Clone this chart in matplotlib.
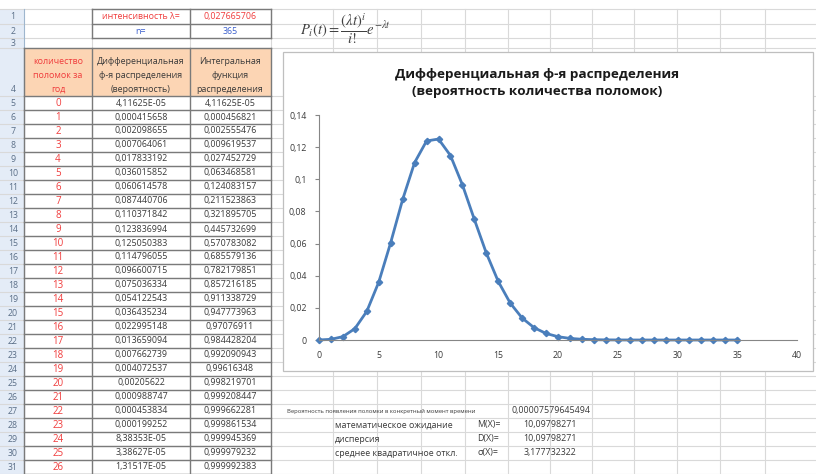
import numpy as np
import matplotlib.pyplot as plt
from matplotlib.ticker import FuncFormatter
from matplotlib.patches import Rectangle

plt.rcParams['font.family'] = ['Open Sans', 'DejaVu Sans']
plt.rcParams['mathtext.fontset'] = 'stix'

# ---- sheet data ----
lam_label, lam_value = 'интенсивность λ=', '0,027665706'
n_label, n_value = 'n=', '365'

header_a = ['количество', 'поломок за', 'год']
header_b = ['Дифференциальная', 'ф-я распределения', '(вероятность)']
header_c = ['Интегральная', 'функция', 'распределения']

breaks = list(range(27))
diff_vals = [4.11625e-05, 0.000415658, 0.002098655, 0.007064061, 0.017833192,
             0.036015852, 0.060614578, 0.087440706, 0.110371842, 0.123836994,
             0.125050383, 0.114796055, 0.096600715, 0.075036334, 0.054122543,
             0.036435234, 0.022995148, 0.013659094, 0.007662739, 0.004072537,
             0.00205622, 0.000988747, 0.000453834, 0.000199252, 8.38353e-05,
             3.38627e-05, 1.31517e-05]
cum_vals = [4.11625e-05, 0.000456821, 0.002555476, 0.009619537, 0.027452729,
            0.063468581, 0.124083157, 0.211523863, 0.321895705, 0.445732699,
            0.570783082, 0.685579136, 0.782179851, 0.857216185, 0.911338729,
            0.947773963, 0.97076911, 0.984428204, 0.992090943, 0.99616348,
            0.998219701, 0.999208447, 0.999662281, 0.999861534, 0.999945369,
            0.999979232, 0.999992383]
# rows 27..35 are below the visible part of the sheet
tail_breaks = [27, 28, 29, 30, 31, 32, 33, 34, 35]
tail_vals = [4.92e-06, 1.77e-06, 6.18e-07, 2.08e-07, 6.8e-08, 2.1e-08,
             6.5e-09, 1.9e-09, 5.6e-10]

chart_title = 'Дифференциальная ф-я распределения\n(вероятность количества поломок)'
x_ticks = [0, 5, 10, 15, 20, 25, 30, 35, 40]
y_ticks = [0, 0.02, 0.04, 0.06, 0.08, 0.1, 0.12, 0.14]

p_label = 'Вероятность появления поломки в конкретный момент времени'
p_value = '0,00007579645494'
stat_names = ['математическое ожидание', 'дисперсия', 'среднее квадратичное откл.']
stat_symbols = ['M(X)=', 'D(X)=', 'σ(X)=']
stat_values = ['10,09798271', '10,09798271', '3,177732322']


def excel_fmt(v):
    if v < 1e-4:
        return f'{v:.5E}'.replace('.', ',')
    return f'{v:.9f}'.rstrip('0').replace('.', ',')


red = '#F03C3C'
blue = '#3A5FCD'
text_gray = '#3A3A3A'
grid_light = '#D9D9D9'
border = '#7A7A7A'
series_blue = '#4A7EBB'
fs = 6.4

fig = plt.figure(figsize=(8.16, 4.74), dpi=100)
sheet = fig.add_axes([0, 0, 1, 1])
sheet.set_xlim(0, 816)
sheet.set_ylim(474, 0)
sheet.axis('off')

row_edges = [9, 24, 38, 48, 96] + [96 + 14 * k for k in range(1, 28)]
col_edges = [24, 92, 190, 271]
right_cols = [333, 377, 421, 465, 508, 550, 592, 634, 677, 720, 765]

# row number column and header fill
sheet.add_patch(Rectangle((0, 9), 24, 465, color='#E4ECF7', lw=0))
sheet.add_patch(Rectangle((24, 48), 247, 48, color='#FCD5B4', lw=0))

# light grid
for y in row_edges:
    sheet.plot([0, 816], [y, y], color=grid_light, lw=0.8)
for x in right_cols:
    sheet.plot([x, x], [9, 474], color=grid_light, lw=0.8)
for x in col_edges[1:]:
    sheet.plot([x, x], [9, 48], color=grid_light, lw=0.8)
sheet.plot([24, 24], [9, 474], color='#9EB6CE', lw=0.8)

# table borders
for y in row_edges[3:]:
    sheet.plot([24, 271], [y, y], color=border, lw=1.0)
for x in col_edges:
    sheet.plot([x, x], [48, 474], color=border, lw=1.0)
for y in row_edges[:3]:
    sheet.plot([92, 271], [y, y], color=border, lw=1.0)
for x in [92, 190, 271]:
    sheet.plot([x, x], [9, 38], color=border, lw=1.0)

# row numbers
for i in range(len(row_edges) - 1):
    yc = (row_edges[i] + row_edges[i + 1]) / 2
    if i == 3:
        yc = 89
    sheet.text(13, yc, str(i + 1), ha='center', va='center', fontsize=6.3, color='#5A6E87')

sheet.text(141, 16.5, lam_label, ha='center', va='center', fontsize=fs, color=red)
sheet.text(230, 16.5, lam_value, ha='center', va='center', fontsize=fs, color=red)
sheet.text(141, 31, n_label, ha='center', va='center', fontsize=fs, color=blue)
sheet.text(230, 31, n_value, ha='center', va='center', fontsize=fs, color=blue)

for j, y in enumerate([61, 75, 89]):
    sheet.text(58, y, header_a[j], ha='center', va='center', fontsize=fs, color=red)
    sheet.text(141, y, header_b[j], ha='center', va='center', fontsize=fs, color=text_gray)
    sheet.text(230, y, header_c[j], ha='center', va='center', fontsize=fs, color=text_gray)

for k in range(len(breaks)):
    yc = 103 + 14 * k
    sheet.text(58, yc, str(breaks[k]), ha='center', va='center', fontsize=7, color=red)
    sheet.text(141, yc, excel_fmt(diff_vals[k]), ha='center', va='center', fontsize=fs, color=text_gray)
    sheet.text(230, yc, excel_fmt(cum_vals[k]), ha='center', va='center', fontsize=fs, color=text_gray)

# formula
sheet.text(300, 29, r'$P_i(t)=\dfrac{(\lambda t)^i}{i!}e^{-\lambda t}$',
           ha='left', va='center', fontsize=10.5, color='#404040')

# bottom block
sheet.text(287, 411, p_label, ha='left', va='center', fontsize=4.2, color=text_gray)
sheet.text(551, 411, p_value, ha='center', va='center', fontsize=fs, color=text_gray)
for k in range(3):
    yc = 425 + 14 * k
    sheet.text(335, yc, stat_names[k], ha='left', va='center', fontsize=fs, color=text_gray)
    sheet.text(477, yc, stat_symbols[k], ha='left', va='center', fontsize=fs, color=text_gray)
    sheet.text(550, yc, stat_values[k], ha='center', va='center', fontsize=fs, color=text_gray)

# chart area
sheet.add_patch(Rectangle((283, 52), 530, 319, facecolor='white', edgecolor='#BFBFBF', lw=0.9, zorder=3))
sheet.text(537, 83, chart_title, ha='center', va='center', fontsize=9.7, fontweight='bold',
           color='#1A1A1A', linespacing=1.4, zorder=4)

ax = fig.add_axes([319 / 816, (474 - 340) / 474, (797 - 319) / 816, (340 - 115) / 474])
ax.set_facecolor('none')
ax.plot(breaks + tail_breaks, diff_vals + tail_vals, color=series_blue, lw=2.0,
        marker='D', markersize=3.2, solid_joinstyle='round', clip_on=False)
ax.set_xlim(0, 40)
ax.set_ylim(0, 0.14)
ax.set_xticks(x_ticks)
ax.set_yticks(y_ticks)
ax.yaxis.set_major_formatter(FuncFormatter(lambda v, p: f'{v:g}'.replace('.', ',')))
for s in ['top', 'right']:
    ax.spines[s].set_visible(False)
ax.spines['left'].set_color('#868686')
ax.spines['bottom'].set_color('#868686')
ax.tick_params(axis='x', length=0, pad=8, labelsize=6.3, labelcolor=text_gray)
ax.tick_params(axis='y', length=3, color='#868686', pad=6, labelsize=6.3, labelcolor=text_gray)

fig.savefig('out.png', dpi=100)
